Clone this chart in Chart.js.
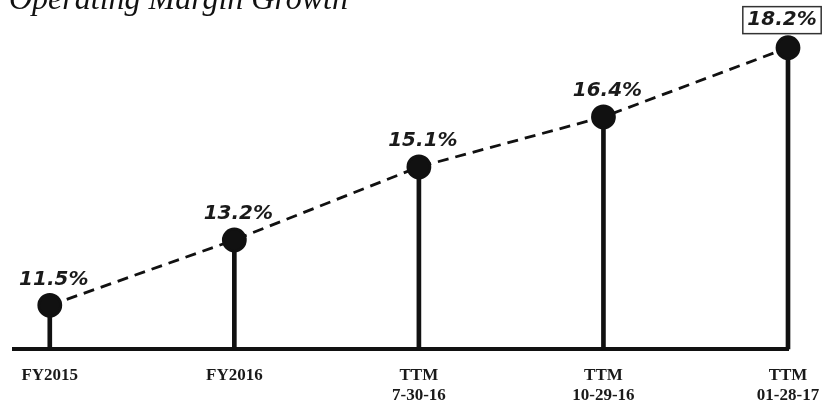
<!DOCTYPE html>
<html lang="en">
<head>
  <meta charset="UTF-8" />
  <title>Operating Margin Growth</title>
  <style>
    html, body {
      margin: 0;
      padding: 0;
      background: #fff;
    }
    .wrap {
      width: 826px;
      height: 404px;
      position: relative;
    }
  </style>
</head>
<body>
  <div class="wrap">
    <canvas id="marginChart"></canvas>
  </div>

  <script src="https://cdn.jsdelivr.net/npm/chart.js"></script>
<script>
  const periods = [['FY2015'], ['FY2016'], ['TTM', '7-30-16'], ['TTM', '10-29-16'], ['TTM', '01-28-17']];
  const margins = [11.5, 13.2, 15.1, 16.4, 18.2];
  const valueLabels = ['11.5%', '13.2%', '15.1%', '16.4%', '18.2%'];

  const points = margins.map((v, i) => ({ x: i, y: v }));

  // title sits half off the top edge, like the source image
  const titlePlugin = {
    id: 'cutTitle',
    afterDraw(chart) {
      const ctx = chart.ctx;
      ctx.save();
      ctx.font = 'italic 32px "Liberation Serif", serif';
      ctx.fillStyle = '#111';
      ctx.textBaseline = 'alphabetic';
      ctx.fillText('Operating Margin Growth', 9, 9);
      ctx.restore();
    }
  };

  const valuePlugin = {
    id: 'valueLabels',
    afterDatasetsDraw(chart) {
      const ctx = chart.ctx;
      const meta = chart.getDatasetMeta(1);
      const last = valueLabels.length - 1;
      ctx.save();
      ctx.font = 'italic bold 20px "DejaVu Sans", sans-serif';
      ctx.textAlign = 'center';
      ctx.textBaseline = 'middle';
      meta.data.forEach((pt, i) => {
        const x = i === last ? pt.x - 6 : pt.x + 4;
        const y = i === last ? pt.y - 28 : pt.y - 26;
        if (i === last) {
          const w = ctx.measureText(valueLabels[i]).width + 9;
          ctx.fillStyle = '#fff';
          ctx.fillRect(x - w / 2, y - 13, w, 27);
          ctx.strokeStyle = '#333';
          ctx.lineWidth = 1.5;
          ctx.strokeRect(x - w / 2, y - 13, w, 27);
        }
        ctx.fillStyle = '#1a1a1a';
        ctx.fillText(valueLabels[i], x, y);
      });
      ctx.restore();
    }
  };

  const ctx = document.getElementById('marginChart').getContext('2d');
  new Chart(ctx, {
    data: {
      datasets: [
        {
          type: 'bar',
          data: points,
          backgroundColor: '#111',
          barThickness: 4,
          clip: { left: false, right: false, top: false, bottom: 0 },
          order: 2
        },
        {
          type: 'line',
          data: points,
          borderColor: '#111',
          borderWidth: 2.8,
          borderDash: [11, 7],
          pointRadius: 11,
          pointBackgroundColor: '#111',
          pointBorderColor: '#111',
          clip: false,
          order: 1
        }
      ]
    },
    options: {
      responsive: true,
      maintainAspectRatio: false,
      animation: false,
      layout: {
        padding: { left: 0, right: 38, top: 0, bottom: -3 }
      },
      plugins: {
        legend: { display: false },
        tooltip: { enabled: false }
      },
      scales: {
        x: {
          type: 'linear',
          offset: false,
          min: -0.195,
          max: 4,
          afterBuildTicks: (scale) => {
            scale.ticks = periods.map((p, i) => ({ value: i }));
          },
          // ticks are invisible, tickLength only pushes the labels down
          grid: { display: false, drawTicks: true, tickLength: 15, offset: false },
          border: { display: true, color: '#111', width: 4 },
          ticks: {
            autoSkip: false,
            maxRotation: 0,
            padding: 1,
            color: '#1a1a1a',
            font: { family: '"Liberation Serif", serif', size: 17, weight: 'bold', lineHeight: 1.2 },
            callback: (value) => periods[value]
          }
        },
        y: {
          display: false,
          min: 10.36,
          max: 19.08
        }
      }
    },
    plugins: [titlePlugin, valuePlugin]
  });
</script>
</body>
</html>
